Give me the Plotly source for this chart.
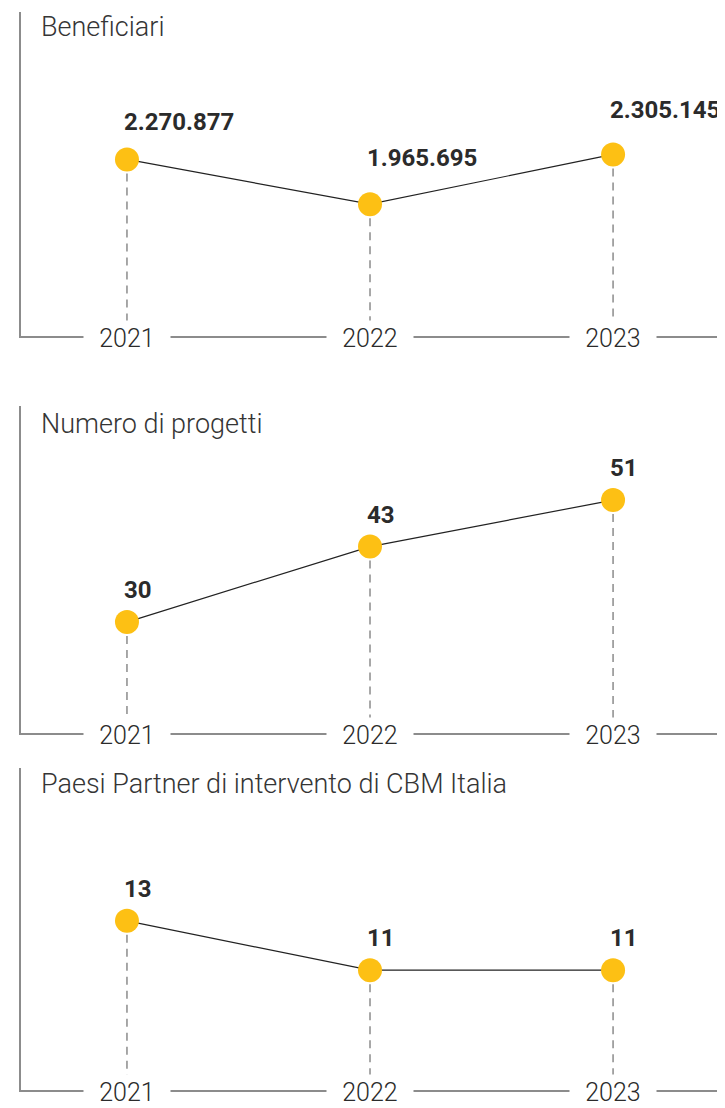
import plotly.graph_objects as go

anni = [2021, 2022, 2023]
beneficiari = [2270877, 1965695, 2305145]
progetti = [30, 43, 51]
paesi = [13, 11, 11]
titoli = ['Beneficiari', 'Numero di progetti', 'Paesi Partner di intervento di CBM Italia']

GIALLO = '#FDC014'
GRIGIO = '#8c8c8c'
TESTO = '#2b2b2b'
FONT = 'Roboto'

# la pagina ha un margine di 8px: si compensa qui
OFF = 8
W, H = 725 - OFF, 1108 - OFF

# (top px, bottom px) di ogni pannello nella pagina, range y, spostamento etichette
pannelli = [
    (beneficiari, (12, 336), [1066170, 3276820], [37, 46, 44], 15),
    (progetti, (406, 733), [10.9, 67.2], [32, 32, 32], 18),
    (paesi, (768, 1090), [6.14, 19.2], [32, 32, 32], 16),
]
x_range = [2020.564, 2023.44]


def fmt(v):
    return f'{v:,}'.replace(',', '.')


fig = go.Figure()
annotazioni = []

for i, (valori, (top, bot), y_range, shifts, t_off) in enumerate(pannelli):
    n = '' if i == 0 else str(i + 1)
    xa, ya = 'x' + n, 'y' + n
    top, bot = top - OFF, bot - OFF

    # linee tratteggiate verso l'asse
    for anno, v in zip(anni, valori):
        fig.add_trace(go.Scatter(
            x=[anno, anno], y=[v, y_range[0]], mode='lines',
            line=dict(color='#7a7a7a', width=1.3, dash='8px,6px'),
            xaxis=xa, yaxis=ya, hoverinfo='skip', showlegend=False
        ))

    fig.add_trace(go.Scatter(
        x=anni, y=valori, mode='lines+markers',
        line=dict(color='#222222', width=1.2),
        marker=dict(color=GIALLO, size=24),
        xaxis=xa, yaxis=ya, showlegend=False
    ))

    for anno, v, s in zip(anni, valori, shifts):
        annotazioni.append(dict(
            x=anno, y=v, xref=xa, yref=ya, text=fmt(v), showarrow=False,
            xanchor='left', yanchor='middle', xshift=-5, yshift=s,
            font=dict(family=FONT, size=24, color=TESTO, weight='bold')
        ))
        annotazioni.append(dict(
            x=anno, y=y_range[0], xref=xa, yref=ya, text='  ' + str(anno) + '  ',
            showarrow=False, xanchor='center', yanchor='middle', yshift=-2,
            bgcolor='white', borderpad=3,
            font=dict(family=FONT, size=25, color=TESTO, weight=300)
        ))

    annotazioni.append(dict(
        x=2020.64, y=1 - (top + t_off) / H, xref=xa, yref='paper', text=titoli[i],
        showarrow=False, xanchor='left', yanchor='middle',
        font=dict(family=FONT, size=27, color='#353535', weight=300)
    ))

    fig.layout['xaxis' + n] = dict(
        range=x_range, domain=[0, 1], anchor=ya, showticklabels=False,
        ticks='', showgrid=False, zeroline=False, showline=True,
        linecolor=GRIGIO, linewidth=1.5, fixedrange=True
    )
    fig.layout['yaxis' + n] = dict(
        range=y_range, domain=[1 - bot / H, 1 - top / H], anchor=xa,
        showticklabels=False, ticks='', showgrid=False, zeroline=False,
        showline=True, linecolor=GRIGIO, linewidth=1.5, fixedrange=True
    )

fig.update_layout(
    width=W, height=H,
    margin=dict(l=21 - OFF, r=5, t=0, b=0),
    paper_bgcolor='white', plot_bgcolor='white',
    annotations=annotazioni,
    font=dict(family=FONT)
)

fig.write_html('out.html')
